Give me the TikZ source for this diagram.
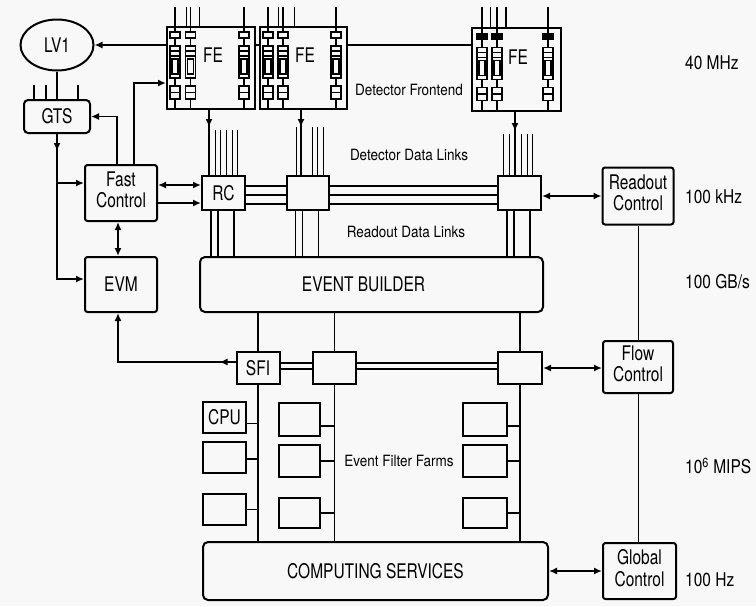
\documentclass[tikz,border=0pt]{standalone}
\usepackage{fontspec}
\usepackage{graphicx}
\setmainfont{TeX Gyre Heros}
\usetikzlibrary{arrows.meta,shapes.geometric,calc}
\definecolor{bg}{HTML}{F8F8F8}
\newcommand{\lblfont}{\fontsize{15.5}{15.5}\selectfont}
\newcommand{\annfont}{\fontsize{13.5}{16}\selectfont}
\newcommand{\sx}[1]{\scalebox{1}[1.3]{#1}}
\newcommand{\sa}[1]{\scalebox{1}[1.15]{#1}}
\newcommand{\sr}[1]{\scalebox{1}[1.22]{#1}}
\newcommand{\two}[2]{\scalebox{1}[1.3]{\begin{tabular}{@{}c@{}}#1\\#2\end{tabular}}}
\newcommand{\fecol}[3]{%
  \draw[comp] (#1,7) -- (#1,{108+#2});
  \draw[comp,fill=#3] ({#1-5},{32+#2}) rectangle ({#1+5},{38+#2});
  \draw[comp,fill=bg] ({#1-5},{46+#2}) rectangle ({#1+5},{78+#2});
  \draw[comp] ({#1-5},{51+#2}) -- ({#1+5},{51+#2});
  \draw[comp] ({#1-5},{56+#2}) -- ({#1+5},{56+#2});
  \draw[comp,fill=bg] ({#1-3},{59+#2}) rectangle ({#1+3},{74+#2});
  \draw[comp,fill=bg] ({#1-5},{86+#2}) rectangle ({#1+5},{99+#2});
  \draw[comp] ({#1-5},{92.5+#2}) -- ({#1+5},{92.5+#2});
}
\begin{document}
\begin{tikzpicture}[x=1pt,y=-1pt,
  >={Latex[length=8pt,width=7pt]},
  box/.style={draw, line width=2pt, fill=bg, inner sep=0pt, rounded corners=2.5pt, font=\lblfont, align=center},
  sqbox/.style={box, rounded corners=0pt},
  ellbox/.style={draw, ellipse, line width=2pt, fill=bg, inner sep=0pt, font=\lblfont},
  cpubox/.style={draw, line width=2.4pt, fill=bg, inner sep=0pt, font=\lblfont},
  conn/.style={line width=1.8pt},
  thinl/.style={line width=1pt},
  comp/.style={line width=1.2pt},
  ann/.style={inner sep=0pt, font=\annfont},
  rate/.style={inner sep=0pt, font=\lblfont, anchor=west}]
\fill[bg] (0,0) rectangle (756,606);
\useasboundingbox (0,0) rectangle (756,606);

% ---------- nodes ----------
\node[ellbox, minimum width=73pt, minimum height=51pt] (lv1) at (57,45) {\sx{LV1}};
\node[box, rounded corners=4pt, minimum width=66pt, minimum height=33pt] (gts) at (57,116.5) {\sx{GTS}};
\node[sqbox, minimum width=88pt, minimum height=82pt] (fe1) at (211,68) {};
\node[sqbox, minimum width=87pt, minimum height=82pt] (fe2) at (303.5,68) {};
\node[sqbox, minimum width=89pt, minimum height=83pt] (fe3) at (516.5,69.5) {};
\node[box, minimum width=72pt, minimum height=56pt] (fc) at (121,193) {\two{Fast}{Control}};
\node[box, minimum width=72pt, minimum height=55pt] (evm) at (121,284.5) {\sx{EVM}};
\node[sqbox, minimum width=43pt, minimum height=34pt] (rc1) at (223.5,193) {\sx{RC}};
\node[sqbox, minimum width=42pt, minimum height=34pt] (rc2) at (308,193) {};
\node[sqbox, minimum width=43pt, minimum height=34pt] (rc3) at (519.5,193) {};
\node[box, minimum width=71pt, minimum height=57pt] (roc) at (638,196) {\two{Readout}{Control}};
\node[box, rounded corners=5pt, minimum width=343pt, minimum height=55pt] (eb) at (371.5,284.5) {};
\node[inner sep=0pt, font=\lblfont] (ebt) at (363.5,284.5) {\sx{EVENT BUILDER}};
\node[sqbox, minimum width=43pt, minimum height=32pt] (sfi) at (258,368) {\sx{SFI}};
\node[sqbox, minimum width=43pt, minimum height=32pt] (sf2) at (334.5,368) {};
\node[sqbox, minimum width=44pt, minimum height=32pt] (sf3) at (520,368) {};
\node[box, minimum width=70pt, minimum height=52pt] (flc) at (638,367) {\two{Flow}{Control}};
\node[box, minimum width=73pt, minimum height=56pt] (gc) at (639.5,571) {\two{Global}{Control}};
\node[box, rounded corners=5pt, minimum width=345pt, minimum height=58pt] (cs) at (375.5,571) {\sx{COMPUTING SERVICES}};

\node[cpubox, minimum width=43pt, minimum height=31pt] (l1) at (224.5,417.5) {\sx{CPU}};
\node[cpubox, minimum width=43pt, minimum height=31pt] (l2) at (224.5,457.5) {};
\node[cpubox, minimum width=43pt, minimum height=31pt] (l3) at (224.5,509.5) {};
\node[cpubox, minimum width=41pt, minimum height=33pt] (m1) at (299.5,419.5) {};
\node[cpubox, minimum width=41pt, minimum height=32pt] (m2) at (299.5,461) {};
\node[cpubox, minimum width=41pt, minimum height=30pt] (m3) at (299.5,513) {};
\node[cpubox, minimum width=44pt, minimum height=33pt] (r1) at (485,419.5) {};
\node[cpubox, minimum width=44pt, minimum height=32pt] (r2) at (485,461) {};
\node[cpubox, minimum width=44pt, minimum height=30pt] (r3) at (485,513) {};

% ---------- FE internals ----------
\fecol{175}{0}{bg}\fecol{190.5}{0}{bg}\fecol{244}{0}{bg}
\fecol{268}{0}{bg}\fecol{283}{0}{bg}\fecol{336}{0}{bg}
\fecol{482}{1.5}{black}\fecol{497}{1.5}{black}\fecol{548}{1.5}{black}
\foreach \x in {186,199} \draw[thinl] (\x,7) -- (\x,27);
\draw[conn] (244,7) -- (244,27);
\foreach \x in {278,294} \draw[thinl] (\x,7) -- (\x,27);
\draw[conn] (336,7) -- (336,27);
\foreach \x in {490} \draw[thinl] (\x,7) -- (\x,28);
\draw[conn] (506,7) -- (506,28);
\node[inner sep=0pt, font=\lblfont] (fe1t) at (213,55) {\sx{FE}};
\node[inner sep=0pt, font=\lblfont] (fe2t) at (305,55) {\sx{FE}};
\node[inner sep=0pt, font=\lblfont] (fe3t) at (518,57) {\sx{FE}};

% ---------- annotations ----------
\node[ann] (tdf) at (409,90) {\sa{Detector Frontend}};
\node[ann] (tddl) at (409,155) {\sa{Detector Data Links}};
\node[ann] (trdl) at (406,232) {\sa{Readout Data Links}};
\node[ann] (tfarm) at (399,461) {\sa{Event Filter Farms}};
\node[rate] (r40) at (685,63) {\sr{40 MHz}};
\node[rate] (r100k) at (685,197) {\sr{100 kHz}};
\node[rate] (r100g) at (685,282) {\sr{100 GB/s}};
\node[rate] (rmips) at (685,466) {\sr{10\textsuperscript{6} MIPS}};
\node[rate] (r100h) at (685,580) {\sr{100 Hz}};

% ---------- trigger side ----------
\draw[conn,->] (fe1.west |- lv1.east) -- (lv1.east);
\draw[conn] (fe1.east |- lv1.east) -- (fe2.west |- lv1.east);
\draw[conn] (fe2.east |- lv1.east) -- (fe3.west |- lv1.east);
\draw[conn] (lv1.south) -- (gts.north);
\foreach \dx in {-23,-11,21} {\path ([xshift=\dx pt]gts.north) coordinate (t); \draw[conn] (t) -- ++(0,-14);}
\path ([xshift=-4pt]fc.north) coordinate (f1);
\draw[conn,->] (f1) |- (gts.east);
\path ([yshift=-15pt]fe1.west) coordinate (fe1in);
\path ([xshift=13pt]fc.north) coordinate (f2);
\draw[conn,->] (f2) |- (fe1in);
\path ([yshift=5.5pt]evm.west) coordinate (evmin);
\draw[conn,->] (gts.south) |- (evmin);
\path ([yshift=10pt]fc.west) coordinate (fcin);
\draw[conn,->] (fcin -| gts.south) -- (fcin);
\draw[conn,->] (gts.south) -- ++(0,17);
\path ([yshift=8pt]fc.east) coordinate (p1);
\draw[conn,<->] (p1) -- (p1 -| rc1.west);
\path ([yshift=-10pt]fc.east) coordinate (p2);
\draw[conn,->] (p2) -- (p2 -| rc1.west);
\draw[conn,<->] ([xshift=-3pt]fc.south) -- ([xshift=-3pt]evm.north);
\path ([yshift=6pt]sfi.west) coordinate (s1);
\draw[conn,->] (s1) -| ([xshift=-3pt]evm.south);
\draw[conn,->] (s1) -- ++(-16,0);

% ---------- FE to RC ----------
\path ([xshift=-2pt]fe1.south) coordinate (a1);
\draw[conn,->] (a1) -- ++(0,17);
\draw[conn] (a1) -- (a1 |- rc1.north);
\foreach \dx in {-8.5,-3.5,2.5,8.5,13.5} {\path ([xshift=\dx pt]rc1.north) coordinate (t); \draw[thinl] (t) -- ++(0,-45);}
\path ([xshift=-2.5pt]fe2.south) coordinate (a2);
\draw[conn,->] (a2) -- ++(0,17);
\draw[conn] (a2) -- (a2 |- rc2.north);
\foreach \dx in {-12,4,9.5,15} {\path ([xshift=\dx pt]rc2.north) coordinate (t); \draw[thinl] (t) -- ++(0,-48);}
\path ([xshift=-1.5pt]fe3.south) coordinate (a3);
\draw[conn,->] (a3) -- ++(0,19);
\draw[conn] (a3) -- (a3 |- rc3.north);
\foreach \dx in {-16.5,-10.5,1.5,7.5,12.5} {\path ([xshift=\dx pt]rc3.north) coordinate (t); \draw[thinl] (t) -- ++(0,-41);}

% ---------- readout links ----------
\foreach \dy in {7,-2,-11} {
  \path ([yshift=\dy pt]rc1.east) coordinate (t);
  \draw[conn] (t) -- (t -| rc2.west);
  \draw[conn] (t -| rc2.east) -- (t -| rc3.west);
}
\draw[conn,<->] (rc3.east |- roc.west) -- (roc.west);
\foreach \n in {rc1,rc2,rc3} {
  \foreach \dx/\w in {-12.5/1.6,-5.5/1.6,10.5/1.1} {
    \path ([xshift=\dx pt]\n.south) coordinate (t);
    \draw[line width=\w pt] (t) -- (t |- eb.north);
  }
}
\draw[thinl] (roc.south) -- (flc.north);
\draw[thinl] (flc.south) -- (flc.south |- gc.north);

% ---------- SFI row ----------
\foreach \n in {sfi,sf2,sf3} {
  \draw[conn] (\n.north |- eb.south) -- (\n.north);
  \draw[conn] (\n.south) -- (\n.south |- cs.north);
}
\foreach \dy in {5,-1} {
  \path ([yshift=\dy pt]sfi.east) coordinate (t);
  \draw[conn] (t) -- (t -| sf2.west);
  \draw[conn] (t -| sf2.east) -- (t -| sf3.west);
}
\draw[conn,<->] (sf3.east) -- (sf3.east -| flc.west);
\draw[conn,<->] (cs.east) -- (gc.west);

% ---------- farms ----------
\foreach \n/\c/\dy in {l1/sfi/-6, l2/sfi/-1.5, l3/sfi/0, m1/sf2/-6.5, m2/sf2/0, m3/sf2/0, r1/sf3/-6.5, r2/sf3/0, r3/sf3/0} {
  \path ([yshift=\dy pt]\n.east) coordinate (t);
  \draw[conn] (t) -- (t -| \c.south);
}
\end{tikzpicture}
\end{document}
